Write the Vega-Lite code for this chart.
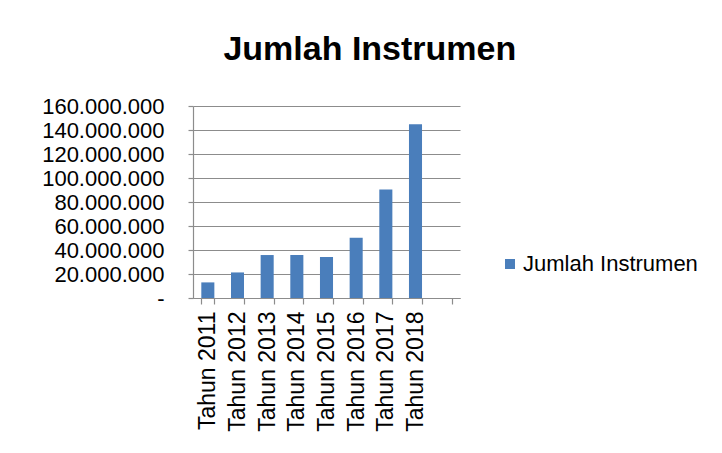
{
  "$schema": "https://vega.github.io/schema/vega-lite/v6.json",
  "width": 267,
  "height": 192,
  "padding": {"left": 41, "top": 33, "right": 5, "bottom": 5},
  "background": "white",
  "config": {
    "font": "Liberation Sans",
    "view": {"stroke": null}
  },
  "title": {
    "text": "Jumlah Instrumen",
    "font": "Liberation Sans",
    "fontSize": 34,
    "fontWeight": "bold",
    "color": "#000000",
    "anchor": "middle",
    "frame": "bounds",
    "offset": 28
  },
  "data": {
    "values": [
      {"tahun": "Tahun 2011", "jumlah": 13000000},
      {"tahun": "Tahun 2012", "jumlah": 21300000},
      {"tahun": "Tahun 2013", "jumlah": 35800000},
      {"tahun": "Tahun 2014", "jumlah": 35900000},
      {"tahun": "Tahun 2015", "jumlah": 34100000},
      {"tahun": "Tahun 2016", "jumlah": 50200000},
      {"tahun": "Tahun 2017", "jumlah": 90500000},
      {"tahun": "Tahun 2018", "jumlah": 144800000}
    ]
  },
  "mark": {"type": "bar"},
  "encoding": {
    "x": {
      "field": "tahun",
      "type": "nominal",
      "sort": null,
      "scale": {
        "domain": ["Tahun 2011", "Tahun 2012", "Tahun 2013", "Tahun 2014", "Tahun 2015", "Tahun 2016", "Tahun 2017", "Tahun 2018", " "],
        "paddingInner": 0.56,
        "paddingOuter": 0.28
      },
      "axis": {
        "title": null,
        "labelAngle": -90,
        "labelFontSize": 23,
        "labelColor": "#000000",
        "labelPadding": 7,
        "tickBand": "extent",
        "domainColor": "#8c8c8c",
        "domainWidth": 1.2,
        "tickColor": "#8c8c8c",
        "tickWidth": 1.2,
        "tickSize": 6,
        "grid": false
      }
    },
    "y": {
      "field": "jumlah",
      "type": "quantitative",
      "scale": {"domain": [0, 160000000]},
      "axis": {
        "title": null,
        "tickCount": 8,
        "labelExpr": "datum.value == 0 ? '-\u2007' : join(split(format(datum.value, ','), ','), '.')",
        "labelFontSize": 22,
        "labelColor": "#000000",
        "labelPadding": 24,
        "tickSize": 5,
        "tickColor": "#8c8c8c",
        "tickWidth": 1.2,
        "domainColor": "#8c8c8c",
        "domainWidth": 1.2,
        "grid": true,
        "gridColor": "#8c8c8c",
        "gridWidth": 1.2
      }
    },
    "color": {
      "datum": "Jumlah Instrumen",
      "scale": {"range": ["#4a7ebb"]},
      "legend": {
        "title": null,
        "orient": "none",
        "legendX": 306,
        "legendY": 147,
        "symbolType": "square",
        "symbolSize": 100,
        "symbolStrokeWidth": 0,
        "labelFontSize": 22,
        "labelColor": "#000000",
        "labelOffset": 2,
        "labelLimit": 0
      }
    }
  }
}
